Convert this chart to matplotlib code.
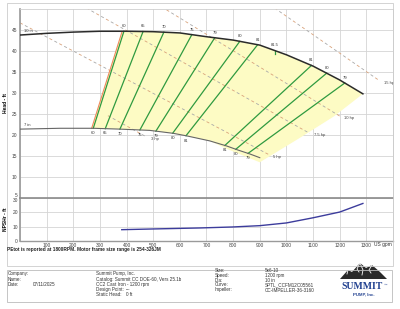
import matplotlib
matplotlib.use("Agg")
import matplotlib.pyplot as plt
from matplotlib.patches import Rectangle, Polygon
import numpy as np

plt.rcParams['font.family'] = ['Liberation Sans', 'DejaVu Sans']
plt.rcParams['lines.scale_dashes'] = False

# impeller curves (US gpm, ft)
flow_10in = [0, 100, 200, 300, 400, 500, 600, 700, 800, 900, 1000, 1100, 1200, 1287]
head_10in = [43.8, 44.2, 44.5, 44.7, 44.7, 44.6, 44.3, 43.4, 42.6, 41.4, 39.1, 36.4, 33.1, 29.8]
flow_7in = [0, 150, 275, 375, 487, 575, 625, 712, 775, 819, 862, 900]
head_7in = [21.4, 21.6, 21.6, 21.4, 21.1, 20.4, 19.8, 18.6, 17.4, 16.4, 15.5, 14.6]

# minimum flow line
minflow_q = [269, 383]
minflow_h = [21.6, 44.6]

# efficiency lines: flow where each line meets the 7 in and 10 in curves
eff_labels = ['60', '65', '70', '75', '79', '80', '81', '81', '80', '79']
eff_q_bottom = [275, 320, 375, 450, 510, 573, 623, 769, 810, 856]
eff_q_top = [390, 462, 540, 645, 731, 825, 892, 1094, 1151, 1219]
eff_peak_q = 956
eff_peak_label = '81.5'

# power lines
hp_labels = ['3 hp', '5 hp', '7.5 hp', '10 hp', '15 hp']
hp_q_start = [330, 0, 250, 550, 956]
hp_h_start = [24.6, 46.7, 50.2, 49.8, 50.2]
hp_q_end = [476, 935, 1087, 1200, 1350]
hp_h_end = [19.5, 15.3, 20.4, 24.5, 32.9]

# right / lower edge of the shaded region
edge_q = [1287, 1180, 1050, 900, 780]
edge_h = [29.6, 24.5, 19.3, 13.5, 16.6]

# NPSHr
npsh_q = [382, 500, 675, 800, 900, 1000, 1100, 1200, 1287]
npsh_ft = [7.9, 8.4, 9.1, 9.8, 10.7, 12.6, 16.2, 20.2, 26.2]

fig = plt.figure(figsize=(4, 3.09), dpi=100)
W, H = 400.0, 309.0

def fx(px):
    return px / W

def fy(py):
    return 1 - py / H

grid_c = '#d4d4d4'
spine_c = '#9a9a9a'

ax = fig.add_axes([fx(20), fy(198), fx(373), 189 / H])
ax2 = fig.add_axes([fx(20), fy(241), fx(373), 43 / H], sharex=ax)

# shaded region
poly_q = list(minflow_q)
poly_h = list(minflow_h)
for q, h in zip(flow_10in, head_10in):
    if q > minflow_q[1]:
        poly_q.append(q)
        poly_h.append(h)
poly_q += edge_q[1:]
poly_h += edge_h[1:]
for q, h in zip(flow_7in[::-1], head_7in[::-1]):
    if minflow_q[0] < q <= 712:
        poly_q.append(q)
        poly_h.append(h)
ax.fill(poly_q, poly_h, color='#fdfbc4', lw=0, zorder=1)

# power lines
for lab, q0, h0, q1, h1 in zip(hp_labels, hp_q_start, hp_h_start, hp_q_end, hp_h_end):
    ax.plot([q0, q1], [h0, h1], color='#d9a27a', lw=0.6, linestyle=(0, (2.2, 5.8)), zorder=2)
    ax.plot([q0, q1], [h0, h1], color='#a8a8a8', lw=0.6, linestyle=(4, (2.2, 5.8)), zorder=2)
    ax.annotate(lab, (q1, h1), xytext=(3, -1.5), textcoords='offset points',
                fontsize=3, color='#444444', va='center', ha='left')

# efficiency lines
h_bottom = np.interp(eff_q_bottom, flow_7in, head_7in)
h_top = np.interp(eff_q_top, flow_10in, head_10in)
for lab, qb, hb, qt, ht in zip(eff_labels, eff_q_bottom, h_bottom, eff_q_top, h_top):
    ax.plot([qb, qt], [hb, ht], color='#2f9a40', lw=0.9, zorder=3)
    ax.annotate(lab, (qt, ht), xytext=(0, 2.2), textcoords='offset points',
                fontsize=3, color='#333333', ha='center', va='bottom')
    ax.annotate(lab, (qb, hb), xytext=(0, -2.0), textcoords='offset points',
                fontsize=3, color='#333333', ha='center', va='top')
hp_peak = np.interp(eff_peak_q, flow_10in, head_10in)
ax.plot([eff_peak_q, eff_peak_q], [hp_peak - 0.8, hp_peak], color='#2f9a40', lw=0.9, zorder=3)
ax.annotate(eff_peak_label, (eff_peak_q, hp_peak), xytext=(0, 2.2), textcoords='offset points',
            fontsize=3, color='#333333', ha='center', va='bottom')

# min flow
ax.plot(minflow_q, minflow_h, color='#ee8a5c', lw=0.8, zorder=3)

# impeller curves
ax.plot(flow_10in, head_10in, color='#2b2b2b', lw=1.1, zorder=4)
ax.plot(flow_7in, head_7in, color='#666666', lw=0.8, zorder=4)
ax.annotate('10 in', (flow_10in[0], head_10in[0]), xytext=(3, 1.2), textcoords='offset points',
            fontsize=3, color='#333333', va='bottom')
ax.annotate('7 in', (flow_7in[0], head_7in[0]), xytext=(3, 1.2), textcoords='offset points',
            fontsize=3, color='#333333', va='bottom')

ax.set_xlim(0, 1400)
ax.set_ylim(5, 50)
ax.set_xticks(range(0, 1401, 100))
ax.set_yticks(range(5, 50, 5))
ax.set_yticklabels([str(v) for v in range(5, 50, 5)])
ax.get_yticklabels()[0].set_va('bottom')
ax.grid(True, color=grid_c, lw=0.6)
ax.set_axisbelow(True)
ax.tick_params(axis='x', labelbottom=False, length=0)
ax.tick_params(axis='y', length=0, labelsize=3.5, pad=2, labelcolor='#444444')
ax.set_ylabel('Head - ft', fontsize=3.5, fontweight='bold', labelpad=3)

ax2.plot(npsh_q, npsh_ft, color='#3c3c9c', lw=1.0)
ax2.set_ylim(0, 30)
ax2.set_yticks([0, 10, 20, 30])
ax2.set_yticklabels(['0', '10', '20', '30'])
ax2.get_yticklabels()[-1].set_va('top')
ax2.set_xticks(range(0, 1401, 100))
ax2.set_xticklabels([''] + [str(v) for v in range(100, 1301, 100)] + [''])
ax2.grid(True, color=grid_c, lw=0.6)
ax2.set_axisbelow(True)
ax2.tick_params(length=0, labelsize=3.5, pad=1.5, labelcolor='#444444')
ax2.set_ylabel('NPSHr - ft', fontsize=3.5, fontweight='bold', labelpad=3)
fig.text(fx(374), fy(244.5), 'US gpm', fontsize=3.5, color='#333333', va='center')

for a in (ax, ax2):
    for s in a.spines.values():
        s.set_color('#cfcfcf')
        s.set_linewidth(0.6)
    a.spines['left'].set_color(spine_c)
    a.spines['left'].set_linewidth(1.2)
ax2.spines['top'].set_color('#8a8a8a')
ax2.spines['top'].set_linewidth(1.2)
ax2.spines['bottom'].set_color(spine_c)
ax2.spines['bottom'].set_linewidth(1.0)

fig.text(fx(7), fy(250), 'PEtot is reported at 1800RPM. Motor frame size range is 254-326JM',
         fontsize=3.4, fontweight='bold', color='#222222', va='center')

# frames
fig.patches.append(Rectangle((fx(7), fy(266)), fx(386), (266 - 3) / H, transform=fig.transFigure,
                             fill=False, ec='#cccccc', lw=0.6))
fig.patches.append(Rectangle((fx(7), fy(302)), fx(385), 32 / H, transform=fig.transFigure,
                             fill=False, ec='#bbbbbb', lw=0.6))

info_c = '#333333'
fs = 3.3
rows = [274, 279.5, 284.5, 289.5, 295]
rows3 = [270, 275, 280, 285, 290]
for y, t in zip(rows, ['Company:', 'Name:', 'Date:']):
    fig.text(fx(8), fy(y), t, fontsize=fs, color=info_c, va='center')
fig.text(fx(33), fy(rows[2]), '07/11/2025', fontsize=fs, color=info_c, va='center')
col2 = ['Summit Pump, Inc.', 'Catalog: Summit CC DOE-60, Vers 25.1b', 'CC2 Cast Iron - 1200 rpm',
        'Design Point:', 'Static Head:']
for y, t in zip(rows, col2):
    fig.text(fx(96), fy(y), t, fontsize=fs, color=info_c, va='center')
fig.text(fx(126), fy(rows[3]), '---', fontsize=fs, color=info_c, va='center')
fig.text(fx(126), fy(rows[4]), '0 ft', fontsize=fs, color=info_c, va='center')
col3 = ['Size:', 'Speed:', 'Dia:', 'Curve:', 'Impeller:']
col3v = ['5x6-10', '1200 rpm', '10 in', 'SPTL_CCFM12C05561', 'CC-IMPELLER-36-3160']
for y, t, v in zip(rows3, col3, col3v):
    fig.text(fx(215), fy(y), t, fontsize=fs, color=info_c, va='center')
    fig.text(fx(265), fy(y), v, fontsize=fs, color=info_c, va='center')

# logo
lg = fig.add_axes([fx(338), fy(300), fx(54), 40 / H])
lg.set_xlim(0, 54)
lg.set_ylim(40, 0)
lg.axis('off')
mountain = [(2, 19), (10, 10), (14, 12), (22, 3), (28, 8), (34, 5), (42, 12), (49, 19)]
lg.add_patch(Polygon(mountain, closed=True, fc='#2a2a2a', ec='none'))
for seg in [[(22, 3), (19, 9), (21, 12)], [(34, 5), (31, 10), (33, 13)], [(10, 10), (9, 14)],
            [(22, 3), (25, 10), (24, 15)]]:
    xs, ys = zip(*seg)
    lg.plot(xs, ys, color='white', lw=0.6)
lg.text(24, 26.5, 'SUMMIT', fontsize=7, fontweight='bold', family='Liberation Serif',
        color='#1f3f8f', ha='center', va='center')
lg.text(47.5, 24.5, '™', fontsize=2.5, color='#1f3f8f', ha='center', va='center')
lg.text(26, 34.5, 'PUMP, Inc.', fontsize=3.2, fontweight='bold', color='#1f3f8f',
        ha='center', va='center')

fig.savefig('out.png', dpi=100, facecolor='white')
